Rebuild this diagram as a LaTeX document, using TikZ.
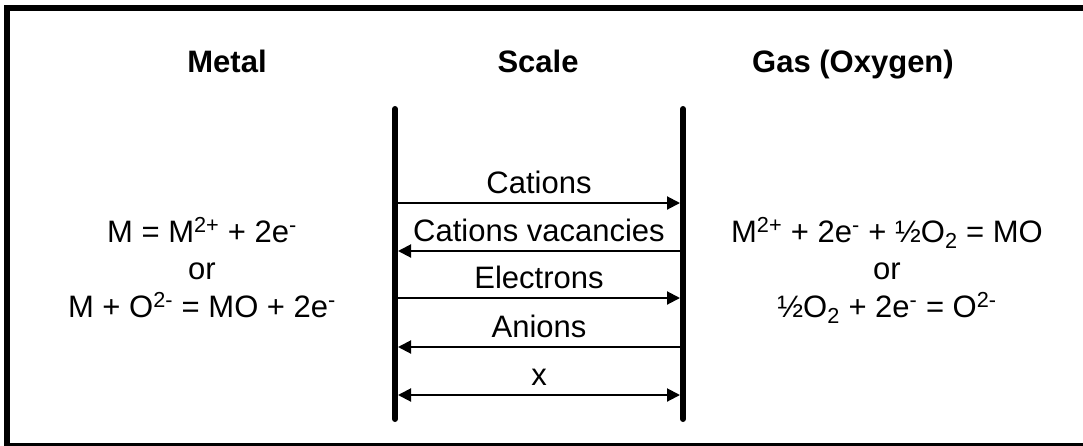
\documentclass[tikz,border=0pt]{standalone}
\usepackage{fontspec}
\setmainfont{Liberation Sans}
\usetikzlibrary{arrows.meta}
\begin{document}
\begin{tikzpicture}[x=1pt,y=-1pt,
  txt/.style={anchor=base,inner sep=0pt,font=\fontsize{31}{37}\selectfont},
  head/.style={txt,font=\fontsize{31}{37}\selectfont\bfseries},
  bar/.style={line width=6pt,line cap=round},
  flow/.style={line width=2pt,-{Triangle[length=13pt,width=13pt]}},
  flowback/.style={line width=2pt,{Triangle[length=13pt,width=13pt]}-},
  flowboth/.style={line width=2pt,{Triangle[length=13pt,width=13pt]}-{Triangle[length=13pt,width=13pt]}}]
\useasboundingbox (0,0) rectangle (1083,445);
\clip (0,0) rectangle (1083,445);

% outer frame (open past the right edge)
\draw[line width=6pt] (7,8) rectangle (1095,446);

% column headings
\node[head] (metal) at (227,72) {Metal};
\node[head] (scale) at (538,72) {Scale};
\node[head] (gas)   at (853,72) {Gas (Oxygen)};

% the two boundaries of the scale
\coordinate (Ltop) at (395,109);
\coordinate (Lbot) at (395,419);
\coordinate (Rtop) at (683,109);
\coordinate (Rbot) at (683,419);
\draw[bar] (Ltop) -- (Lbot);
\draw[bar] (Rtop) -- (Rbot);

% transport rows
\foreach \i/\y in {1/203,2/251,3/298,4/347,5/395}{
  \coordinate (L\i) at (398,\y);
  \coordinate (R\i) at (680,\y);
}
\draw[flow]     (L1) -- (R1);
\draw[flowback] (L2) -- (R2);
\draw[flow]     (L3) -- (R3);
\draw[flowback] (L4) -- (R4);
\draw[flowboth] (L5) -- (R5);

\node[txt] (cat)  at (539,193) {Cations};
\node[txt] (vac)  at (539,241) {Cations vacancies};
\node[txt] (ele)  at (539,288) {Electrons};
\node[txt] (ani)  at (539,337) {Anions};
\node[txt] (xx)   at (539,385) {x};

% metal side reactions
\node[txt] (m1) at (202,242) {M = M\textsuperscript{2+} + 2e\textsuperscript{-}};
\node[txt] (m2) at (202,279) {or};
\node[txt] (m3) at (202,317) {M + O\textsuperscript{2-} = MO + 2e\textsuperscript{-}};

% gas side reactions
\node[txt] (g1) at (887,242) {M\textsuperscript{2+} + 2e\textsuperscript{-} + ½O\textsubscript{2} = MO};
\node[txt] (g2) at (887,279) {or};
\node[txt] (g3) at (887,317) {½O\textsubscript{2} + 2e\textsuperscript{-} = O\textsuperscript{2-}};
\end{tikzpicture}
\end{document}
